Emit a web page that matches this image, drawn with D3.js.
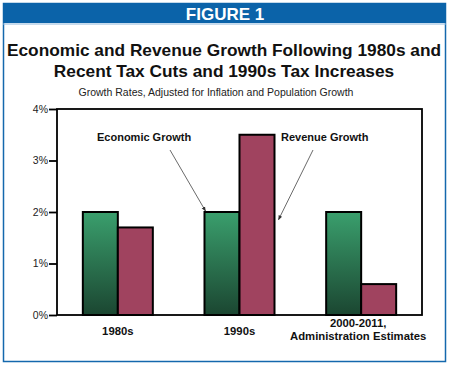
<!DOCTYPE html>
<html>
<head>
<meta charset="utf-8">
<script src="https://cdn.jsdelivr.net/npm/d3@7"></script>
<style>
  body { margin: 0; background: #fff; }
  svg { display: block; font-family: "Liberation Sans", Arial, sans-serif; }
</style>
</head>
<body>
<svg width="450" height="367"></svg>
<script>
// data
var categories = ["1980s", "1990s", "2000-2011"];
var categoryLabels = [["1980s"], ["1990s"], ["2000-2011,", "Administration Estimates"]];
var seriesNames = ["Economic Growth", "Revenue Growth"];
var economicGrowth = [2.0, 2.0, 2.0];
var revenueGrowth = [1.7, 3.5, 0.6];
var yTicks = [0, 1, 2, 3, 4];

var svg = d3.select("svg");

// frame + header
svg.append("rect").attr("x", 3.5).attr("y", 3.5).attr("width", 442).attr("height", 358)
  .attr("fill", "#fff").attr("stroke", "#1468ad").attr("stroke-width", 1.5);
svg.append("rect").attr("x", 3).attr("y", 3).attr("width", 443).attr("height", 20).attr("fill", "#0b63a9");
svg.append("line").attr("x1", 3).attr("x2", 446).attr("y1", 24).attr("y2", 24)
  .attr("stroke", "#8fb8dc").attr("stroke-width", 1.2);
svg.append("text").attr("x", 225).attr("y", 19.5).attr("text-anchor", "middle")
  .attr("fill", "#fff").attr("font-weight", "bold").attr("font-size", 17).text("FIGURE 1");

var titles = ["Economic and Revenue Growth Following 1980s and", "Recent Tax Cuts and 1990s Tax Increases"];
svg.selectAll(".title").data(titles).enter().append("text")
  .attr("class", "title")
  .attr("x", 224).attr("y", (d, i) => 56 + i * 21)
  .attr("text-anchor", "middle").attr("font-weight", "bold").attr("font-size", 17.3)
  .attr("fill", "#111").text(d => d);
svg.append("text").attr("x", 216).attr("y", 96).attr("text-anchor", "middle")
  .attr("font-size", 10.5).attr("fill", "#222")
  .text("Growth Rates, Adjusted for Inflation and Population Growth");

// chart
var margin = {left: 57, right: 28, top: 109, bottom: 52};
var width = 450 - margin.left - margin.right,
    height = 367 - margin.top - margin.bottom;
var g = svg.append("g").attr("transform", "translate(" + margin.left + "," + margin.top + ")");

var y = d3.scaleLinear().domain([0, 4]).range([height, 0]);
var x0 = d3.scaleBand().domain(categories).range([0, width]).padding(0);
var barW = 35;
var x1 = d3.scaleBand().domain(seriesNames)
  .range([x0.bandwidth() / 2 - barW, x0.bandwidth() / 2 + barW]).padding(0);

var defs = svg.append("defs");
var grad = defs.append("linearGradient").attr("id", "greenGrad")
  .attr("x1", 0).attr("y1", 0).attr("x2", 0).attr("y2", 1);
grad.append("stop").attr("offset", "0%").attr("stop-color", "#3a9f6d");
grad.append("stop").attr("offset", "100%").attr("stop-color", "#1b4631");
var fills = {"Economic Growth": "url(#greenGrad)", "Revenue Growth": "#a0435f"};

// frame box
g.append("rect").attr("x", 0).attr("y", 0).attr("width", width).attr("height", height)
  .attr("fill", "none").attr("stroke", "#000").attr("stroke-width", 1.8);

var rows = categories.map((c, i) => ({cat: c, vals: [
  {key: seriesNames[0], value: economicGrowth[i]},
  {key: seriesNames[1], value: revenueGrowth[i]}]}));

var groups = g.selectAll(".grp").data(rows).enter().append("g")
  .attr("class", "grp").attr("transform", d => "translate(" + x0(d.cat) + ",0)");
groups.selectAll("rect").data(d => d.vals).enter().append("rect")
  .attr("x", d => x1(d.key))
  .attr("y", d => y(d.value))
  .attr("width", x1.bandwidth())
  .attr("height", d => y(0) - y(d.value))
  .attr("fill", d => fills[d.key])
  .attr("stroke", "#000").attr("stroke-width", 2);

// y axis
var yAxis = g.append("g").call(d3.axisLeft(y).tickValues(yTicks).tickSize(8).tickFormat(d => d + "%"));
yAxis.select(".domain").remove();
yAxis.selectAll(".tick line").attr("stroke", "#000").attr("stroke-width", 1.8);
yAxis.selectAll(".tick text").attr("font-size", 10.5).attr("fill", "#222").attr("x", -9);

// x labels
g.selectAll(".xlab").data(categories).enter().append("text")
  .attr("class", "xlab")
  .attr("x", (d, i) => x0(d) + x0.bandwidth() / 2 - (i === 2 ? 3 : 0))
  .attr("y", (d, i) => categoryLabels[i].length > 1 ? height + 12 : height + 20)
  .attr("text-anchor", "middle").attr("font-weight", "bold").attr("font-size", 11.3).attr("fill", "#111")
  .selectAll("tspan").data((d, i) => categoryLabels[i]).enter().append("tspan")
  .attr("x", function() { return d3.select(this.parentNode).attr("x"); })
  .attr("dy", (d, i) => i ? 13 : 0)
  .text(d => d);

// annotations
defs.append("marker").attr("id", "arrow").attr("viewBox", "0 0 10 10")
  .attr("refX", 9).attr("refY", 5).attr("markerWidth", 6).attr("markerHeight", 6)
  .attr("orient", "auto")
  .append("path").attr("d", "M0,1 L10,5 L0,9 z").attr("fill", "#333");

var c2 = x0(categories[1]);
var notes = [
  {text: seriesNames[0], tx: 40, ty: 32, x1: 113, y1: 41,
   x2: c2 + x1(seriesNames[0]) + 1, y2: y(economicGrowth[1]) - 1},
  {text: seriesNames[1], tx: 224, ty: 32, x1: 256, y1: 41,
   x2: c2 + x1(seriesNames[1]) + x1.bandwidth() + 4, y2: y(revenueGrowth[1]) + 85}
];
g.selectAll(".note").data(notes).enter().append("text")
  .attr("class", "note").attr("x", d => d.tx).attr("y", d => d.ty)
  .attr("font-weight", "bold").attr("font-size", 11).attr("fill", "#111").text(d => d.text);
g.selectAll(".arr").data(notes).enter().append("line")
  .attr("class", "arr")
  .attr("x1", d => d.x1).attr("y1", d => d.y1).attr("x2", d => d.x2).attr("y2", d => d.y2)
  .attr("stroke", "#444").attr("stroke-width", 0.8).attr("marker-end", "url(#arrow)");
</script>
</body>
</html>
